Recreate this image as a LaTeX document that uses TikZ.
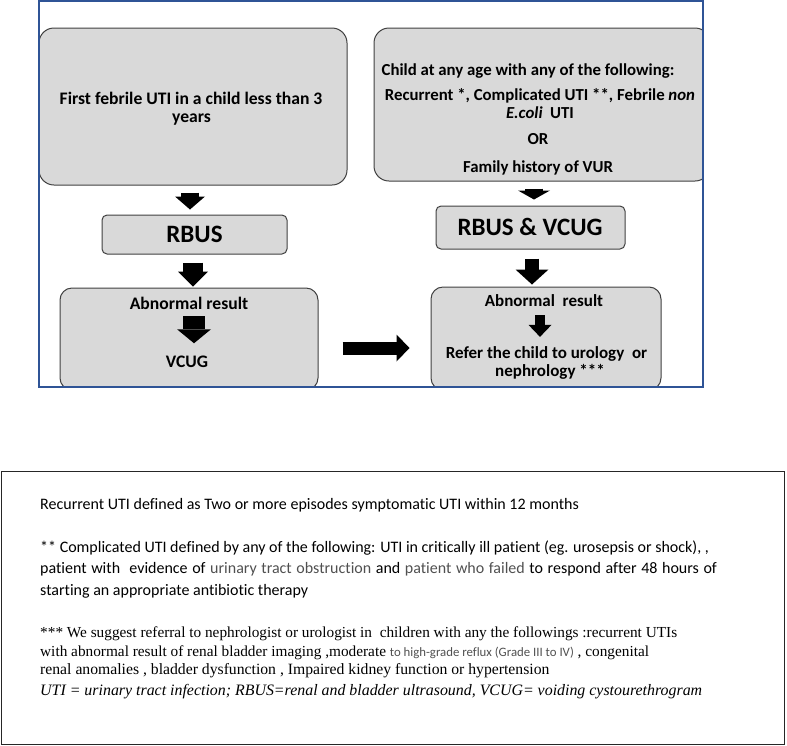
\documentclass[tikz,border=0pt]{standalone}
\usepackage{fontspec}
\setmainfont{Carlito}[Ligatures=NoCommon]
\newfontfamily\timesf{Liberation Serif}
\usetikzlibrary{arrows.meta}
\definecolor{boxfill}{RGB}{217,217,217}
\definecolor{boxline}{RGB}{64,64,64}
\definecolor{frameblue}{RGB}{47,84,150}
\definecolor{softtext}{RGB}{80,80,80}
\tikzset{
  flowbox/.style={draw=boxline, fill=boxfill, line width=1pt, rounded corners=#1, inner sep=0pt},
  boxtxt/.style={anchor=base, inner sep=0pt, font=\bfseries\fontsize{17.6}{19}\selectfont},
  boxtxtb/.style={anchor=base, inner sep=0pt, font=\bfseries\fontsize{16.8}{19}\selectfont},
  boxtxtf/.style={anchor=base, inner sep=0pt, font=\bfseries\fontsize{17}{19}\selectfont},
  bigtxt/.style={anchor=base, inner sep=0pt, font=\bfseries\fontsize{25}{28}\selectfont},
  fat/.style n args={3}{draw=black, line width=#1, -{Triangle[width=#2, length=#3, line width=0pt]}},
  notetxt/.style={anchor=base west, inner sep=0pt, font=\fontsize{16}{19}\selectfont},
  serifnote/.style={anchor=base west, inner sep=0pt, font=\timesf\fontsize{15.3}{18}\selectfont},
  italnote/.style={anchor=base west, inner sep=0pt, font=\timesf\itshape\fontsize{15.9}{19}\selectfont}
}
\begin{document}
\begin{tikzpicture}[x=1pt,y=-1pt]
\useasboundingbox (0,0) rectangle (787,745);
\begin{scope}
  \clip (39,1) rectangle (703,387);
  \node[flowbox=15pt, minimum width=308pt, minimum height=157pt] (A) at (193,106.5) {};
  \node[flowbox=15pt, minimum width=336pt, minimum height=153pt] (B) at (542,104.5) {};
  \node[flowbox=5pt, minimum width=185pt, minimum height=39pt] (C) at (194.5,234.5) {};
  \node[flowbox=5pt, minimum width=189pt, minimum height=43pt] (D) at (530.5,227.5) {};
  \node[flowbox=12pt, minimum width=258pt, minimum height=102pt] (E) at (189,339) {};
  \node[flowbox=12pt, minimum width=230pt, minimum height=103pt] (F) at (546,338.5) {};
\end{scope}
\draw[frameblue, line width=1.2pt] (39,1) rectangle (703,387);

\node[boxtxt] (a1) at (191,104) {First febrile UTI in a child less than 3};
\node[boxtxt] (a2) at (191.5,122) {years};
\node[boxtxtb] (b1) at (528,75) {Child at any age with any of the following:};
\node[boxtxtb] (b2) at (540,100) {Recurrent *, Complicated UTI **, Febrile \textit{non}};
\node[boxtxtb] (b3) at (540,118) {\textit{E.coli}\ \ UTI};
\node[boxtxtb] (b4) at (538,144) {OR};
\node[boxtxtb] (b5) at (538,172) {Family history of VUR};
\node[bigtxt] (c1) at (194.5,242) {RBUS};
\node[bigtxt] (d1) at (530,235) {RBUS \& VCUG};
\node[boxtxt] (e1) at (189,309) {Abnormal result};
\node[boxtxt] (e2) at (187,367) {VCUG};
\node[boxtxtf] (f1) at (544,306) {Abnormal\ \ result};
\node[boxtxtf] (f2) at (546.5,358) {Refer the child to urology\ \ or};
\node[boxtxtf] (f3) at (550,376) {nephrology ***};

\draw[fat={18pt}{30pt}{13pt}, shorten <=7pt, shorten >=5pt] ([xshift=-3pt]A.south) -- ([xshift=-4.5pt]C.north);
\draw[fat={20pt}{30pt}{15pt}, shorten <=8pt, shorten >=1pt] ([xshift=-1.5pt]C.south) -- ([xshift=4pt]E.north);
\draw[fat={22pt}{34pt}{14pt}, shorten <=7pt, shorten >=12pt] ([xshift=5pt]e1.south) -- ([xshift=7pt]e2.north);
\draw[fat={18pt}{32pt}{9pt}, shorten <=7pt, shorten >=6pt] ([xshift=-8pt]B.south) -- ([xshift=3.5pt]D.north);
\draw[fat={14pt}{33pt}{15pt}, shorten <=9pt, shorten >=2pt] ([xshift=1.5pt]D.south) -- ([xshift=-14pt]F.north);
\draw[fat={10pt}{23pt}{12pt}, shorten <=9pt, shorten >=9pt] ([xshift=-4pt]f1.south) -- ([xshift=-6.5pt]f2.north);
\draw[fat={13pt}{27pt}{13pt}, shorten <=24pt, shorten >=21pt] ([yshift=-9pt]E.east) -- ([yshift=-9.5pt]F.west);

\draw[black!85, line width=1pt] (1,471) rectangle (784,744);
\node[notetxt] (n1) at (40,509) {Recurrent UTI defined as Two or more episodes symptomatic UTI within 12 months};
\node[notetxt] (n2) at (40,552) {** Complicated UTI defined by any of the following: UTI in critically ill patient (eg. urosepsis or shock), ,};
\node[notetxt] (n3) at (40,573) {\spaceskip=4.6pt plus 1pt\relax patient with\ \ evidence of {\color{softtext}urinary tract obstruction} and {\color{softtext}patient who failed} to respond after 48 hours of};
\node[notetxt] (n4) at (40,595) {starting an appropriate antibiotic therapy};
\node[serifnote] (n5) at (40,637) {*** We suggest referral to nephrologist or urologist in\ \ children with any the followings :recurrent UTIs};
\node[serifnote] (n6) at (40,656) {with abnormal result of renal bladder imaging ,moderate\ {\rmfamily\fontsize{12.8}{15}\selectfont\color{softtext}to high-grade reflux (Grade III to IV)} , congenital};
\node[serifnote, font=\timesf\fontsize{15.7}{18}\selectfont] (n7) at (40,674) {renal anomalies , bladder dysfunction , Impaired kidney function or hypertension};
\node[italnote] (n8) at (40,695) {UTI = urinary tract infection; RBUS=renal and bladder ultrasound, VCUG= voiding cystourethrogram};
\end{tikzpicture}
\end{document}
